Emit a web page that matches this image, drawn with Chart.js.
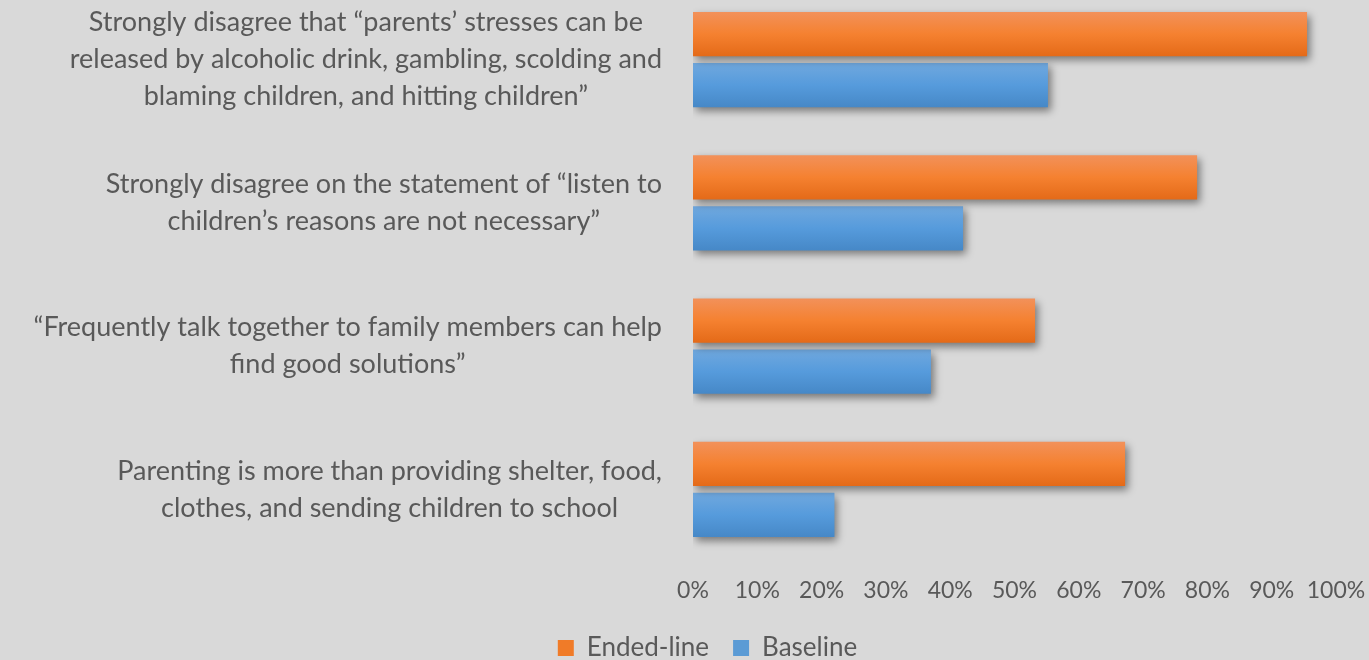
<!DOCTYPE html>
<html>
<head>
<meta charset="utf-8">
<script src="https://cdn.jsdelivr.net/npm/chart.js@4"></script>
<style>
  html, body { margin: 0; padding: 0; background: #d9d9d9; }
  #wrap { width: 1369px; height: 660px; }
</style>
</head>
<body>
<div id="wrap"><canvas id="chart"></canvas></div>
<script>
// categories, top to bottom
const categories = [
    ["Strongly disagree that \u201cparents\u2019 stresses can be", "released by alcoholic drink, gambling, scolding and", "blaming children, and hitting children\u201d"],
    ["Strongly disagree on the statement of \u201clisten to", "children\u2019s reasons are not necessary\u201d"],
    ["\u201cFrequently talk together to family members can help", "find good solutions\u201d"],
    ["Parenting is more than providing shelter, food,", "clothes, and sending children to school"]
];
const endedLine = [95.5, 78.4, 53.2, 67.2];
const baseline = [55.2, 42.0, 37.0, 22.0];
const xTicks = [0, 10, 20, 30, 40, 50, 60, 70, 80, 90, 100];

const textColor = "#595959";
const labelFont = "Lato";

// gradient fill + drop shadow on the bars, grey page behind
const barLook = {
    id: "barLook",
    beforeDraw(chart) {
        const ctx = chart.ctx;
        ctx.save();
        ctx.fillStyle = "#d9d9d9";
        ctx.fillRect(0, 0, chart.width, chart.height);
        ctx.restore();
    },
    // push the plot area up a little and place axis/legend like the original
    afterLayout(chart) {
        const area = chart.chartArea;
        area.top = -12;
        area.bottom = 561;
        area.height = area.bottom - area.top;
        area.right = 1336;
        area.width = area.right - area.left;
        const y = chart.scales.y;
        y.top = -12;
        y.bottom = 561;
        y.height = 573;
        y.configure();
        const x = chart.scales.x;
        x.top = 561;
        x.bottom = 617;
        x.height = 56;
        x.right = 1336;
        x.width = x.right - x.left;
        x.configure();
        const lg = chart.legend;
        const shift = 648 - (lg.top + lg.options.labels.padding + 13);
        lg.top += shift;
        lg.bottom += shift;
        lg.left += 37;
        lg.right += 37;
    },
    beforeDatasetsDraw(chart) {
        const ctx = chart.ctx;
        const stops = [
            ["#f2915a", "#f58130", "#e46a18"],
            ["#70a8de", "#569bdc", "#4688c7"]
        ];
        chart.data.datasets.forEach((ds, i) => {
            const meta = chart.getDatasetMeta(i);
            meta.data.forEach(el => {
                const h = el.height;
                const g = ctx.createLinearGradient(0, el.y - h / 2, 0, el.y + h / 2);
                g.addColorStop(0, stops[i][0]);
                g.addColorStop(0.5, stops[i][1]);
                g.addColorStop(1, stops[i][2]);
                el.options = Object.assign({}, el.options, { backgroundColor: g });
            });
        });
        ctx.save();
        ctx.shadowColor = "rgba(0,0,0,0.45)";
        ctx.shadowBlur = 8;
        ctx.shadowOffsetX = 3;
        ctx.shadowOffsetY = 4;
    },
    afterDatasetsDraw(chart) {
        chart.ctx.restore();
    },
    // category labels: each block centred on itself, right edge near the bars
    afterDraw(chart) {
        const ctx = chart.ctx;
        const y = chart.scales.y;
        const right = chart.chartArea.left - 31;
        const lineH = 37;
        ctx.save();
        ctx.font = "27px " + labelFont;
        ctx.fillStyle = textColor;
        ctx.textAlign = "center";
        ctx.textBaseline = "middle";
        categories.forEach((lines, i) => {
            const cy = y.getPixelForValue(i);
            const w = Math.max(...lines.map(l => ctx.measureText(l).width));
            const cx = right - w / 2;
            const top = cy - (lines.length - 1) * lineH / 2;
            lines.forEach((l, j) => ctx.fillText(l, cx, top + j * lineH));
        });
        ctx.restore();
    }
};

new Chart(document.getElementById("chart"), {
    type: "bar",
    data: {
        labels: categories,
        datasets: [
            {
                label: "Ended-line",
                data: endedLine,
                backgroundColor: "#f07b28",
                borderWidth: 0
            },
            {
                label: "Baseline",
                data: baseline,
                backgroundColor: "#5b9bd5",
                borderWidth: 0
            }
        ]
    },
    options: {
        indexAxis: "y",
        responsive: true,
        maintainAspectRatio: false,
        animation: false,
        categoryPercentage: 0.713,
        barPercentage: 0.863,
        layout: { padding: { top: 0, left: 0, right: 28, bottom: 0 } },
        scales: {
            x: {
                min: 0,
                max: 100,
                afterBuildTicks: s => { s.ticks = xTicks.map(v => ({ value: v })); },
                afterFit: s => { s.height = 56; },
                grid: { display: false },
                border: { display: false },
                ticks: {
                    callback: v => v + "%",
                    color: textColor,
                    font: { family: labelFont, size: 23 },
                    padding: 8,
                    maxRotation: 0
                }
            },
            y: {
                afterFit: s => { s.width = 693; },
                grid: { display: false },
                border: { display: false },
                ticks: { display: false }
            }
        },
        plugins: {
            legend: {
                position: "bottom",
                labels: {
                    color: textColor,
                    font: { family: labelFont, size: 26 },
                    boxWidth: 16,
                    boxHeight: 16,
                    padding: 24
                }
            },
            tooltip: { enabled: false }
        }
    },
    plugins: [barLook]
});
</script>
</body>
</html>
